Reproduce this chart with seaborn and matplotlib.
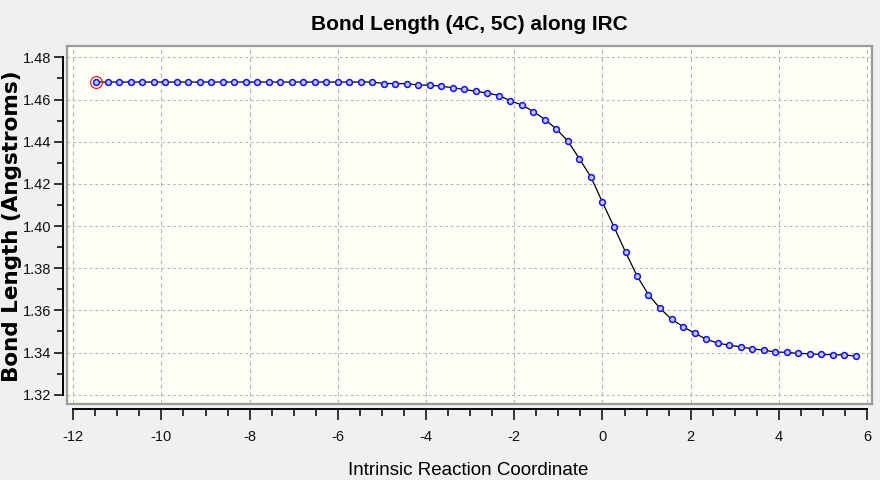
import matplotlib
matplotlib.use("Agg")
import matplotlib.pyplot as plt
from matplotlib import font_manager
from matplotlib.ticker import MultipleLocator, FormatStrFormatter
import seaborn as sns

# ---- data ----
irc_coord = [-11.475, -11.214, -10.954, -10.693, -10.432, -10.171, -9.910, -9.650,
             -9.389, -9.128, -8.867, -8.606, -8.346, -8.085, -7.824, -7.563,
             -7.302, -7.042, -6.781, -6.520, -6.259, -5.998, -5.738, -5.477,
             -5.216, -4.955, -4.694, -4.434, -4.173, -3.912, -3.651, -3.390,
             -3.130, -2.869, -2.608, -2.347, -2.086, -1.826, -1.565, -1.304,
             -1.043, -0.782, -0.522, -0.261, 0.000, 0.261, 0.522, 0.782,
             1.043, 1.304, 1.565, 1.826, 2.086, 2.347, 2.608, 2.869,
             3.130, 3.390, 3.651, 3.912, 4.173, 4.434, 4.694, 4.955,
             5.216, 5.477, 5.738]
bond_length = [1.4683, 1.4683, 1.4683, 1.4683, 1.4683, 1.4683, 1.4683, 1.4683,
               1.4683, 1.4683, 1.4683, 1.4683, 1.4683, 1.4683, 1.4683, 1.4683,
               1.4683, 1.4683, 1.4683, 1.4683, 1.4683, 1.4683, 1.4683, 1.4683,
               1.4683, 1.4676, 1.4676, 1.4675, 1.4669, 1.4668, 1.4663, 1.4656,
               1.4648, 1.4639, 1.4631, 1.4619, 1.4594, 1.4574, 1.4543, 1.4505,
               1.4460, 1.4402, 1.4319, 1.4232, 1.4113, 1.3996, 1.3877, 1.3764,
               1.3674, 1.3610, 1.3558, 1.3523, 1.3492, 1.3464, 1.3445, 1.3435,
               1.3427, 1.3418, 1.3411, 1.3403, 1.3401, 1.3396, 1.3394, 1.3391,
               1.3390, 1.3389, 1.3383]
x_ticks = [-12, -10, -8, -6, -4, -2, 0, 2, 4, 6]
y_ticks = [1.32, 1.34, 1.36, 1.38, 1.40, 1.42, 1.44, 1.46, 1.48]
title_text = "Bond Length (4C, 5C) along IRC"
x_label = "Intrinsic Reaction Coordinate"
y_label = "Bond Length (Angstroms)"

sns.set_theme(style="white")
names = {f.name for f in font_manager.fontManager.ttflist}
if "Liberation Sans Narrow" in names:
    main_font = "Liberation Sans Narrow"
    fs_title, fs_xlabel, fs_tick = 18, 16.5, 12.5
else:
    main_font = "Liberation Sans"
    fs_title, fs_xlabel, fs_tick = 15, 13.5, 10.5
plt.rcParams["font.family"] = [main_font, "DejaVu Sans"]
plt.rcParams["axes.unicode_minus"] = False

W, H = 880, 480
fig = plt.figure(figsize=(W / 100, H / 100), dpi=100, facecolor="#f0f0f0")

L, R, T, B = 67, 872, 46, 404
pos = [L / W, 1 - B / H, (R - L) / W, (B - T) / H]
xlim = (-12.14, 6.11)
ylim = (1.3156, 1.4854)

# main plotting box
ax = fig.add_axes(pos)
ax.set_facecolor("#fefef6")
ax.set_xlim(*xlim)
ax.set_ylim(*ylim)
ax.set_xticks(x_ticks)
ax.set_yticks(y_ticks)
ax.tick_params(length=0, labelbottom=False, labelleft=False)
for s in ax.spines.values():
    s.set_visible(True)
    s.set_color("#9a9a9a")
    s.set_linewidth(1.6)
ax.grid(False)
for xv in x_ticks:
    ax.axvline(xv, color="#b8b8b8", lw=0.8, dashes=(4, 3), zorder=0)
for yv in y_ticks:
    ax.axhline(yv, color="#b8b8b8", lw=0.8, dashes=(2.5, 2.5), zorder=0)

sns.lineplot(x=irc_coord, y=bond_length, ax=ax, color="black", lw=0.9,
             marker="o", ms=4.2, mfc="#c4c8dc", mec="#1010ff", mew=1.1,
             sort=False, zorder=3)
ax.plot(irc_coord[:1], bond_length[:1], marker="o", ms=8.5, mfc="none",
        mec="red", mew=0.8, ls="none", zorder=4)
ax.set_xlabel("")
ax.set_ylabel("")

# separate axis lines (drawn outside the box)
ax2 = fig.add_axes(pos, facecolor="none")
ax2.set_xlim(*xlim)
ax2.set_ylim(*ylim)
ax2.patch.set_visible(False)
for side in ("top", "right"):
    ax2.spines[side].set_visible(False)
for side in ("left", "bottom"):
    ax2.spines[side].set_visible(True)
    ax2.spines[side].set_color("black")
    ax2.spines[side].set_linewidth(1.4)
ax2.spines["left"].set_position(("outward", 3))
ax2.spines["bottom"].set_position(("outward", 3.6))
ax2.spines["left"].set_bounds(1.32, 1.48)
ax2.spines["bottom"].set_bounds(-12, 6)
ax2.set_xticks(x_ticks)
ax2.set_yticks(y_ticks)
ax2.xaxis.set_minor_locator(MultipleLocator(0.5))
ax2.yaxis.set_minor_locator(MultipleLocator(0.01))
ax2.yaxis.set_major_formatter(FormatStrFormatter("%.2f"))
ax2.set_xticklabels([str(v) for v in x_ticks])
ax2.tick_params(axis="x", which="major", direction="out", length=8, width=1.1,
                color="black", pad=7, labelsize=fs_tick, labelcolor="#111111",
                bottom=True)
ax2.tick_params(axis="x", which="minor", direction="out", length=5, width=1.1,
                color="black", bottom=True)
ax2.tick_params(axis="y", which="major", direction="out", length=6.5, width=1.1,
                color="black", pad=1.5, labelsize=fs_tick, labelcolor="#111111",
                left=True)
ax2.tick_params(axis="y", which="minor", direction="out", length=4.3, width=1.1,
                color="black", left=True)
ax2.grid(False)

# texts
fig.text((L + R) / 2 / W, 1 - 29.5 / H, title_text, ha="center", va="baseline",
         fontsize=fs_title, fontweight="bold", color="black")
fig.text(468 / W, 1 - 475 / H, x_label, ha="center", va="baseline",
         fontsize=fs_xlabel, color="black")
fig.text(12 / W, 1 - 226 / H, y_label, rotation=90, ha="center", va="center",
         fontsize=15.5, fontweight="bold", color="black",
         family=["DejaVu Sans"])

fig.savefig("out.png", dpi=100, facecolor=fig.get_facecolor())
